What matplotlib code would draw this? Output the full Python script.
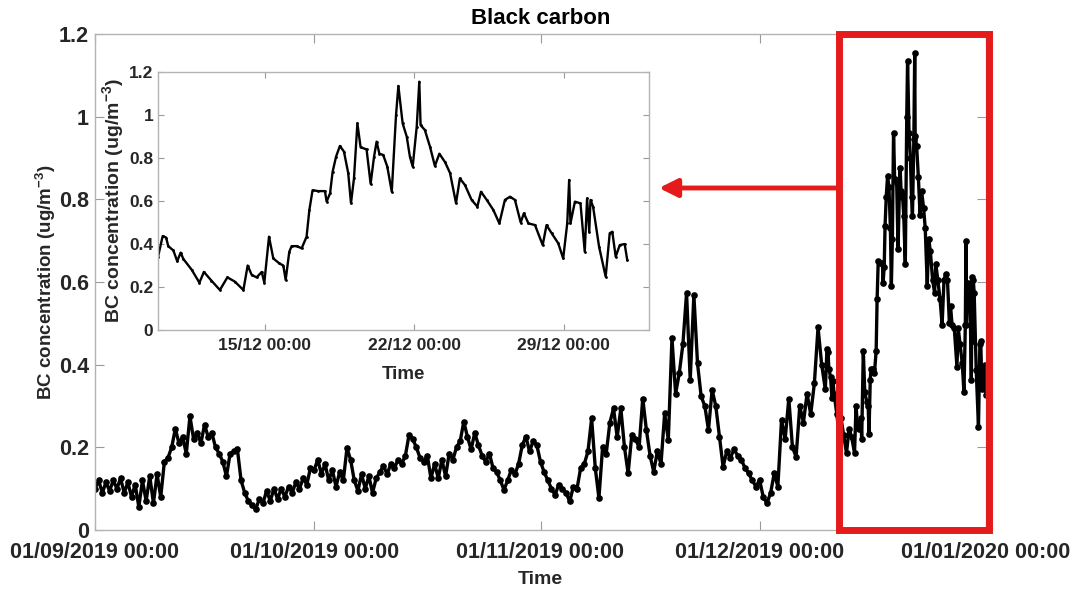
import numpy as np
import pandas as pd
import matplotlib
matplotlib.use('Agg')
import matplotlib.pyplot as plt
import matplotlib.dates as mdates
from matplotlib.patches import Rectangle, FancyArrowPatch
from matplotlib.ticker import FuncFormatter
from matplotlib import rcParams
rcParams['mathtext.default'] = 'regular'
rcParams['font.family'] = ['Liberation Sans', 'DejaVu Sans']
rcParams['font.weight'] = 'bold'
rcParams['axes.labelweight'] = 'bold'

##################################################
# data

# BC concentration every 12 h, 01/09/2019 00:00 -> 09/12/2019 12:00
bc_12h = [
    0.10, 0.12, 0.09, 0.115, 0.095, 0.12, 0.10, 0.125, 0.09, 0.115,
    0.08, 0.11, 0.056, 0.12, 0.07, 0.13, 0.065, 0.135, 0.08, 0.165,
    0.175, 0.20, 0.245, 0.21, 0.225, 0.185, 0.275, 0.22, 0.235, 0.21,
    0.255, 0.225, 0.235, 0.20, 0.185, 0.165, 0.13, 0.185, 0.19, 0.195,
    0.12, 0.09, 0.07, 0.06, 0.05, 0.075, 0.065, 0.095, 0.07, 0.10,
    0.075, 0.10, 0.08, 0.105, 0.09, 0.115, 0.10, 0.125, 0.11, 0.15,
    0.145, 0.17, 0.135, 0.16, 0.12, 0.145, 0.105, 0.14, 0.12, 0.198,
    0.17, 0.12, 0.095, 0.135, 0.10, 0.13, 0.09, 0.125, 0.14, 0.155,
    0.135, 0.16, 0.15, 0.17, 0.16, 0.18, 0.23, 0.22, 0.20, 0.175,
    0.165, 0.18, 0.125, 0.16, 0.125, 0.17, 0.13, 0.185, 0.17, 0.20,
    0.215, 0.262, 0.225, 0.195, 0.235, 0.205, 0.18, 0.165, 0.185, 0.15,
    0.14, 0.12, 0.097, 0.12, 0.145, 0.135, 0.16, 0.205, 0.226, 0.19,
    0.215, 0.205, 0.165, 0.14, 0.12, 0.10, 0.085, 0.11, 0.10, 0.09,
    0.069, 0.105, 0.10, 0.15, 0.16, 0.19, 0.27, 0.15, 0.077, 0.20,
    0.185, 0.26, 0.294, 0.225, 0.294, 0.20, 0.137, 0.23, 0.22, 0.20,
    0.318, 0.242, 0.18, 0.141, 0.19, 0.16, 0.282, 0.218, 0.464, 0.33,
    0.379, 0.45, 0.573, 0.363, 0.569, 0.403, 0.323, 0.30, 0.242, 0.339,
    0.30, 0.226, 0.153, 0.19, 0.175, 0.195, 0.18, 0.17, 0.15, 0.137,
    0.12, 0.105, 0.121, 0.08, 0.065, 0.089, 0.137, 0.105, 0.266, 0.22,
    0.318, 0.20, 0.177, 0.30, 0.26, 0.33, 0.28, 0.355, 0.49, 0.40,
]

# December episode, days after 10/12/2019 00:00
dec_days = [
    0.00, 0.22, 0.38, 0.48, 0.72, 0.90, 1.06, 1.19, 1.58, 1.94,
    2.15, 2.50, 2.90, 3.25, 3.60, 4.00, 4.20, 4.39, 4.62, 4.86,
    4.98, 5.20, 5.40, 5.68, 5.87, 5.98, 6.15, 6.26, 6.50, 6.73,
    6.96, 7.09, 7.24, 7.51, 7.82, 7.90, 8.06, 8.18, 8.34, 8.52,
    8.71, 8.91, 9.04, 9.18, 9.34, 9.49, 9.77, 9.96, 10.12, 10.24,
    10.37, 10.55, 10.74, 10.95, 11.15, 11.26, 11.46, 11.65, 11.80, 11.93,
    12.12, 12.24, 12.30, 12.50, 12.74, 12.97, 13.18, 13.45, 13.68, 13.96,
    14.14, 14.38, 14.69, 14.96, 15.13, 15.40, 15.71, 15.99, 16.25, 16.49,
    16.72, 16.99, 17.14, 17.35, 17.66, 18.02, 18.20, 18.44, 18.75, 18.98,
    19.17, 19.26, 19.32, 19.53, 19.79, 19.99, 20.10, 20.20, 20.26, 20.38,
    20.66, 20.97, 21.16, 21.28, 21.44, 21.63, 21.86, 21.98,
]
dec_bc = [
    0.34, 0.437, 0.43, 0.39, 0.37, 0.32, 0.36, 0.33, 0.28, 0.22,
    0.27, 0.23, 0.186, 0.245, 0.225, 0.186, 0.30, 0.256, 0.245, 0.27,
    0.22, 0.434, 0.333, 0.31, 0.30, 0.233, 0.364, 0.39, 0.39, 0.38,
    0.434, 0.558, 0.65, 0.646, 0.646, 0.597, 0.636, 0.736, 0.806, 0.856,
    0.83, 0.73, 0.59, 0.705, 0.961, 0.85, 0.84, 0.68, 0.806, 0.876,
    0.82, 0.814, 0.76, 0.643, 1.0, 1.135, 0.961, 0.90, 0.806, 0.76,
    0.946, 1.155, 0.953, 0.93, 0.853, 0.763, 0.82, 0.78, 0.73, 0.59,
    0.705, 0.674, 0.605, 0.574, 0.643, 0.605, 0.558, 0.496, 0.605, 0.62,
    0.605, 0.50, 0.543, 0.496, 0.488, 0.395, 0.488, 0.45, 0.403, 0.333,
    0.496, 0.698, 0.496, 0.597, 0.589, 0.364, 0.612, 0.457, 0.605, 0.574,
    0.388, 0.248, 0.45, 0.457, 0.341, 0.395, 0.40, 0.326,
]

main_ticks = ['2019-09-01', '2019-10-01', '2019-11-01', '2019-12-01', '2020-01-01']
inset_ticks = ['2019-12-15', '2019-12-22', '2019-12-29']

##################################################
# settings

W, H = 1074, 593
red = '#e51a1a'
spine_grey = '#b3b3b3'
tick_grey = '#9a9a9a'
text_col = '#262626'

t_12h = pd.Timestamp('2019-09-01') + pd.to_timedelta(np.arange(len(bc_12h)) * 12, unit='h')
t_dec = pd.Timestamp('2019-12-10') + pd.to_timedelta(dec_days, unit='D')
t_all = t_12h.append(t_dec)
bc_all = np.concatenate([bc_12h, dec_bc])

ylab = 'BC concentration (ug/m$^{-3}$)'

def style_axes(ax, size, length, xpad, ypad):
    ax.set_ylim(0, 1.2)
    ax.set_yticks(np.arange(0, 1.21, 0.2))
    ax.yaxis.set_major_formatter(FuncFormatter(lambda v, p: '%g' % round(v, 2)))
    ax.tick_params(direction='in', top=True, right=True, length=length, width=0.8,
                   color=tick_grey, labelcolor=text_col, labelsize=size)
    ax.tick_params(axis='x', pad=xpad)
    ax.tick_params(axis='y', pad=ypad)
    for s in ax.spines.values():
        s.set_color(spine_grey)
        s.set_linewidth(1.0)

##################################################
# main program

fig = plt.figure(figsize=(W / 100, H / 100), dpi=100)

ax = fig.add_axes([95 / W, 63 / H, 891 / W, 496 / H])
ax.plot(t_all, bc_all, color='black', lw=2.4, marker='o', ms=4.8, mew=0)
ax.set_xlim(pd.Timestamp('2019-09-01'), pd.Timestamp('2020-01-01'))
ax.set_xticks(pd.to_datetime(main_ticks))
ax.xaxis.set_major_formatter(mdates.DateFormatter('%d/%m/%Y %H:%M'))
style_axes(ax, 15.5, 6.5, 9, 4.5)
ax.set_xlabel('Time', fontsize=14, fontweight='bold', color=text_col)
ax.xaxis.set_label_coords(0.5, -0.083)
ax.set_ylabel(ylab, fontsize=13.5, fontweight='bold', color=text_col)
ax.yaxis.set_label_coords(-0.041, 0.5)

fig.text(540.5 / W, 1 - 18 / H, 'Black carbon', ha='center', va='center',
         fontsize=16, weight='bold', color='black')

# zoom on the December episode
axi = fig.add_axes([158 / W, 263 / H, 491 / W, 258 / H])
axi.plot(t_dec, dec_bc, color='black', lw=1.7, marker='o', ms=2.0, mew=0)
axi.set_xlim(pd.Timestamp('2019-12-10'), pd.Timestamp('2020-01-02'))
axi.set_xticks(pd.to_datetime(inset_ticks))
axi.xaxis.set_major_formatter(mdates.DateFormatter('%d/%m %H:%M'))
style_axes(axi, 12.5, 4, 6, 3.5)
axi.set_xlabel('Time', fontsize=13.5, fontweight='bold', color=text_col)
axi.xaxis.set_label_coords(0.5, -0.14)
axi.set_ylabel(ylab, fontsize=14, fontweight='bold', color=text_col)
axi.yaxis.set_label_coords(-0.066, 0.5)

# red frame round the episode and arrow to the zoom
box = Rectangle((838.5 / W, 63 / H), (989 - 838.5) / W, (530 - 33.5) / H,
                transform=fig.transFigure, fill=False, edgecolor=red, lw=5, zorder=5)
fig.patches.append(box)
arrow = FancyArrowPatch((838 / W, 1 - 188 / H), (659 / W, 1 - 188 / H),
                        transform=fig.transFigure, color=red, lw=3.5,
                        arrowstyle='-|>,head_length=11,head_width=5.5',
                        shrinkA=0, shrinkB=0, zorder=5)
fig.patches.append(arrow)

plt.savefig('out.png', dpi=100)
